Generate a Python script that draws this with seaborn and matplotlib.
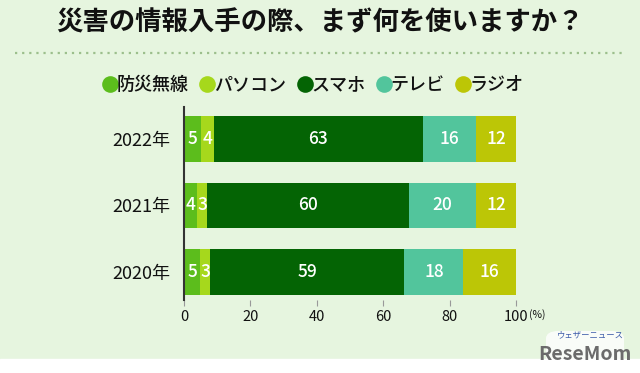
import numpy as np
import pandas as pd
import seaborn as sns
import matplotlib.pyplot as plt
from matplotlib.lines import Line2D
from matplotlib.patches import Rectangle, FancyBboxPatch

years = ["2022年", "2021年", "2020年"]
series = ["防災無線", "パソコン", "スマホ", "テレビ", "ラジオ"]
bousai = [5, 4, 5]
pasokon = [4, 3, 3]
sumaho = [63, 60, 59]
terebi = [16, 20, 18]
rajio = [12, 12, 16]
colors = ["#5cbd1c", "#a6d81c", "#046404", "#52c59c", "#bcc606"]
xticks = [0, 20, 40, 60, 80, 100]

sns.set_theme(style="white")
plt.rcParams['font.family'] = ['Noto Sans CJK JP', 'DejaVu Sans']

BG = "#e6f5df"
fig = plt.figure(figsize=(6.4, 3.73), dpi=100, facecolor=BG)
W, H = 640, 373
ax = fig.add_axes([184 / W, 1 - 300 / H, (516 - 184) / W, (300 - 107) / H])
ax.set_facecolor(BG)

vals = np.array([bousai, pasokon, sumaho, terebi, rajio], dtype=float)
norm = vals / vals.sum(axis=0) * 100
cum = np.cumsum(norm, axis=0)

for i in range(len(series) - 1, -1, -1):
    df = pd.DataFrame({"year": years, "v": cum[i]})
    sns.barplot(data=df, x="v", y="year", color=colors[i], orient="h",
                width=0.69, ax=ax, saturation=1, edgecolor="none", linewidth=0)

for i in range(len(series)):
    for j in range(len(years)):
        center = cum[i, j] - norm[i, j] / 2
        ax.text(center, j, str(int(vals[i, j])), ha="center", va="center",
                color="white", fontsize=12.5, fontweight="medium")

ax.set_xlim(0, 100)
ax.set_ylim(2.42, -0.48)
ax.set_xlabel("")
ax.set_ylabel("")
for s in ["top", "right", "bottom"]:
    ax.spines[s].set_visible(False)
ax.spines["left"].set_color("#333333")
ax.spines["left"].set_linewidth(1.5)
ax.set_xticks(xticks)
ax.set_xticklabels([str(t) for t in xticks], fontsize=10.5, color="#111111")
ax.tick_params(axis="x", bottom=True, length=4, width=0.8, color="#999999", pad=3)
ax.tick_params(axis="y", left=False, labelsize=13, labelcolor="#111111", pad=4)
fig.text(529 / W, 1 - 315 / H, "(%)", fontsize=7.5, ha="left", va="center", color="#111111")

# title
fig.text(0.5, 1 - 23 / H, "災害の情報入手の際、まず何を使いますか？", ha="center", va="center",
         fontsize=19, fontweight="bold", color="#111111")
fig.add_artist(Line2D([15 / W, 625 / W], [1 - 53 / H, 1 - 53 / H], color="#9cbf8c",
                      linestyle=(0, (1, 2.2)), linewidth=1.6))

# legend
handles = [Line2D([], [], marker="o", linestyle="none", markersize=12,
                  markerfacecolor=c, markeredgecolor="none") for c in colors]
leg = fig.legend(handles, series, loc="center", bbox_to_anchor=(0.488, 1 - 85 / H), ncol=5,
                 frameon=False, handletextpad=-0.15, columnspacing=0.55,
                 handlelength=1.0, prop={"size": 13, "weight": "medium"})
for t in leg.get_texts():
    t.set_color("#111111")

# bottom strip & watermark
fig.add_artist(Rectangle((0, 0), 1, 14 / H, transform=fig.transFigure, color="white", zorder=0))
fig.add_artist(FancyBboxPatch((546 / W, 4 / H), 78 / W, 38 / H, transform=fig.transFigure,
                              boxstyle="round,pad=0,rounding_size=0.02", facecolor="white",
                              edgecolor="none", alpha=0.8))
fig.text(585 / W, 1 - 355 / H, "ReseMom", ha="center", va="center", fontsize=14,
         fontweight="bold", color="#6b6b6b")
fig.text(590 / W, 1 - 335 / H, "ウェザーニュース", ha="center", va="center", fontsize=6,
         color="#3a5aa8")

fig.savefig("out.png", dpi=100, facecolor=BG)
